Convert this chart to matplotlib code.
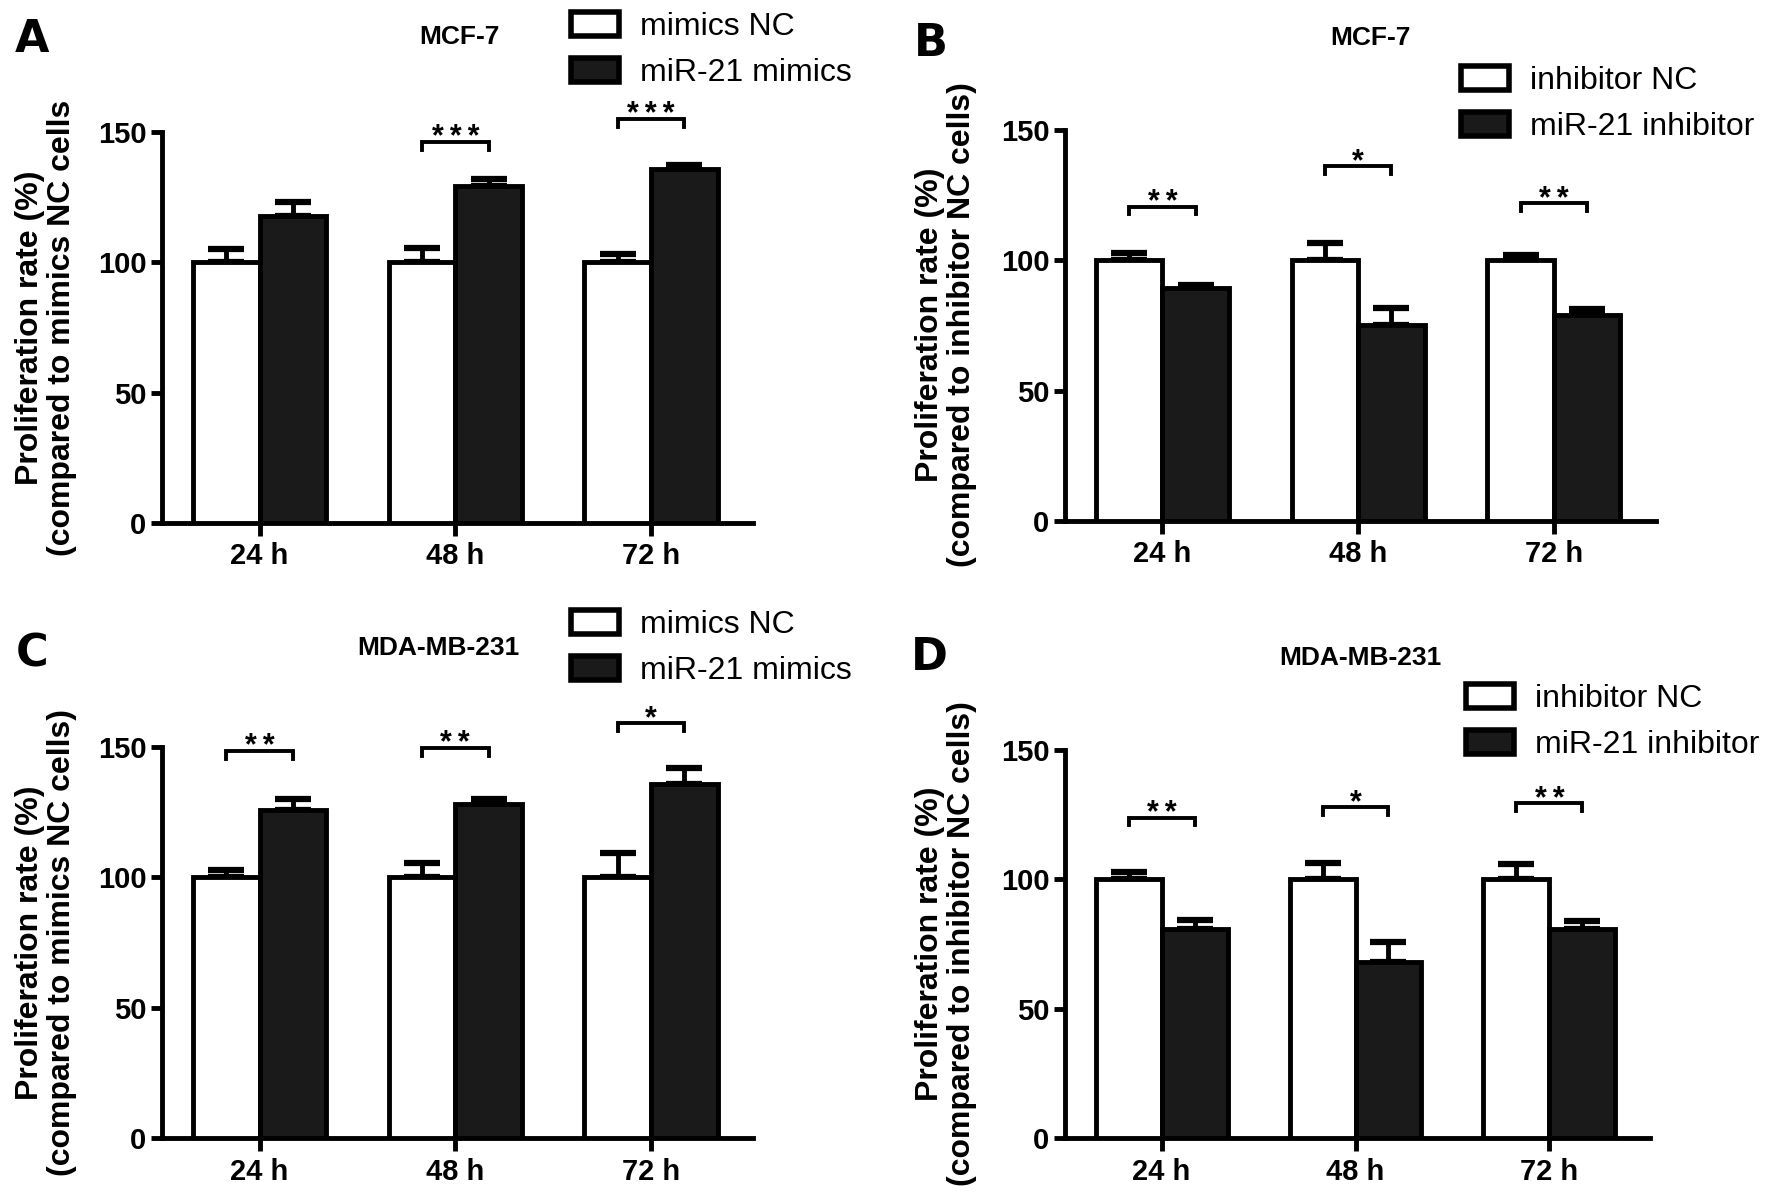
import matplotlib
matplotlib.use("Agg")
import matplotlib.pyplot as plt
from matplotlib.patches import Patch
import numpy as np

plt.rcParams['font.family'] = ['Liberation Sans', 'DejaVu Sans']

# ---------------- data ----------------
timepoints = ["24 h", "48 h", "72 h"]

# Panel A: MCF-7, mimics
a_nc_mean = [100, 100, 100]
a_nc_err = [5.0, 5.6, 3.2]
a_trt_mean = [117.7, 129.3, 135.8]
a_trt_err = [5.3, 2.7, 1.5]
a_sig_y = [None, 146.0, 155.0]
a_sig_lab = ["", "***", "***"]

# Panel B: MCF-7, inhibitor
b_nc_mean = [100, 100, 100]
b_nc_err = [2.7, 6.7, 1.9]
b_trt_mean = [89.3, 75.2, 78.9]
b_trt_err = [1.3, 6.6, 2.3]
b_sig_y = [120.6, 136.1, 121.8]
b_sig_lab = ["**", "*", "**"]

# Panel C: MDA-MB-231, mimics
c_nc_mean = [100, 100, 100]
c_nc_err = [2.7, 5.4, 9.3]
c_trt_mean = [126.0, 128.1, 135.7]
c_trt_err = [4.2, 1.9, 6.3]
c_sig_y = [148.5, 149.6, 159.2]
c_sig_lab = ["**", "**", "*"]

# Panel D: MDA-MB-231, inhibitor
d_nc_mean = [100, 100, 100]
d_nc_err = [3.0, 6.2, 5.9]
d_trt_mean = [80.8, 68.1, 80.8]
d_trt_err = [3.5, 7.6, 3.3]
d_sig_y = [123.9, 127.9, 129.4]
d_sig_lab = ["**", "*", "**"]

yticks = [0, 50, 100, 150]

W, H = 1772, 1198
fig = plt.figure(figsize=(W / 100, H / 100), dpi=100)
fig.patch.set_facecolor("white")

BLACK = "#1a1a1a"
LW = 3.5


def fx(px):
    return px / W


def fy(py):
    return 1 - py / H


def panel(rect, nc_mean, nc_err, trt_mean, trt_err, sig_y, sig_lab,
          nc_label, trt_label, title, title_xy, letter, letter_xy,
          ylab2, ylab_xy, leg_xy):
    ax = fig.add_axes(rect)
    x = np.arange(len(timepoints))
    w = 0.34
    off = 0.17
    ax.bar(x - off, nc_mean, w, color="white", edgecolor="black", linewidth=LW, zorder=3)
    ax.bar(x + off, trt_mean, w, color=BLACK, edgecolor="black", linewidth=LW, zorder=3)
    ax.errorbar(x - off, nc_mean, yerr=[np.zeros(3), nc_err], fmt="none",
                ecolor="black", elinewidth=LW, capsize=13, capthick=LW + 1, zorder=2,
                clip_on=False)
    ax.errorbar(x + off, trt_mean, yerr=[np.zeros(3), trt_err], fmt="none",
                ecolor="black", elinewidth=LW, capsize=13, capthick=LW + 1, zorder=2,
                clip_on=False)
    for i, (yy, lab) in enumerate(zip(sig_y, sig_lab)):
        if yy is None:
            continue
        x0, x1 = i - off, i + off
        ax.plot([x0, x0, x1, x1], [yy - 3, yy, yy, yy - 3], color="black",
                lw=2.8, clip_on=False, solid_joinstyle="miter")
        ax.text(i, yy - 1.6, "\u2009".join(lab), ha="center", va="baseline",
                fontsize=22, fontweight="bold", clip_on=False)
    ax.set_xlim(-0.5, 2.52)
    ax.set_ylim(0, 150)
    ax.set_yticks(yticks)
    ax.set_yticklabels([str(t) for t in yticks], fontsize=21, fontweight="bold")
    ax.set_xticks(x)
    ax.set_xticklabels(timepoints, fontsize=21, fontweight="bold")
    for s in ["top", "right"]:
        ax.spines[s].set_visible(False)
    for s in ["left", "bottom"]:
        ax.spines[s].set_linewidth(LW)
    ax.tick_params(axis="y", direction="out", length=8, width=LW, pad=3)
    ax.tick_params(axis="x", direction="out", length=9, width=LW, pad=5)
    ax.patch.set_alpha(0)

    fig.text(fx(title_xy[0]), fy(title_xy[1]), title, ha="center", va="center",
             fontsize=19, fontweight="bold")
    fig.text(fx(letter_xy[0]), fy(letter_xy[1]), letter, ha="center", va="center",
             fontsize=32, fontweight="bold", family="DejaVu Sans")
    fig.text(fx(ylab_xy[0]), fy(ylab_xy[1]), "Proliferation rate (%)\n" + ylab2,
             rotation=90, ha="center", va="center", multialignment="center",
             fontsize=23, fontweight="bold", linespacing=1.08)
    handles = [Patch(facecolor="white", edgecolor="black", linewidth=LW + 0.5),
               Patch(facecolor=BLACK, edgecolor="black", linewidth=LW + 0.5)]
    fig.legend(handles, [nc_label, trt_label], loc="upper left",
               bbox_to_anchor=(fx(leg_xy[0]), fy(leg_xy[1])),
               bbox_transform=fig.transFigure, frameon=False, fontsize=23,
               handlelength=1.5, handleheight=0.78, handletextpad=0.65,
               labelspacing=0.5, borderpad=0, borderaxespad=0)
    return ax


colw = 0.3335
panel([0.0913, 0.5634, colw, 0.3266], a_nc_mean, a_nc_err, a_trt_mean, a_trt_err,
      a_sig_y, a_sig_lab, "mimics NC", "miR-21 mimics", "MCF-7", (459, 37),
      "A", (32, 40), "(compared to mimics NC cells", (46, 328), (571, 12))
panel([0.6008, 0.5651, colw, 0.3265], b_nc_mean, b_nc_err, b_trt_mean, b_trt_err,
      b_sig_y, b_sig_lab, "inhibitor NC", "miR-21 inhibitor", "MCF-7", (1370, 38),
      "B", (931, 44), "(compared to inhibitor NC cells)", (946, 325), (1461, 66))
panel([0.0913, 0.0499, colw, 0.3265], c_nc_mean, c_nc_err, c_trt_mean, c_trt_err,
      c_sig_y, c_sig_lab, "mimics NC", "miR-21 mimics", "MDA-MB-231", (438, 648),
      "C", (32, 654), "(compared to mimics NC cells)", (46, 943), (571, 610))
panel([0.6008, 0.0499, 0.3305, 0.3240], d_nc_mean, d_nc_err, d_trt_mean, d_trt_err,
      d_sig_y, d_sig_lab, "inhibitor NC", "miR-21 inhibitor", "MDA-MB-231", (1360, 658),
      "D", (929, 657), "(compared to inhibitor NC cells)", (946, 944), (1466, 684))

fig.savefig("out.png", dpi=100, facecolor="white")
